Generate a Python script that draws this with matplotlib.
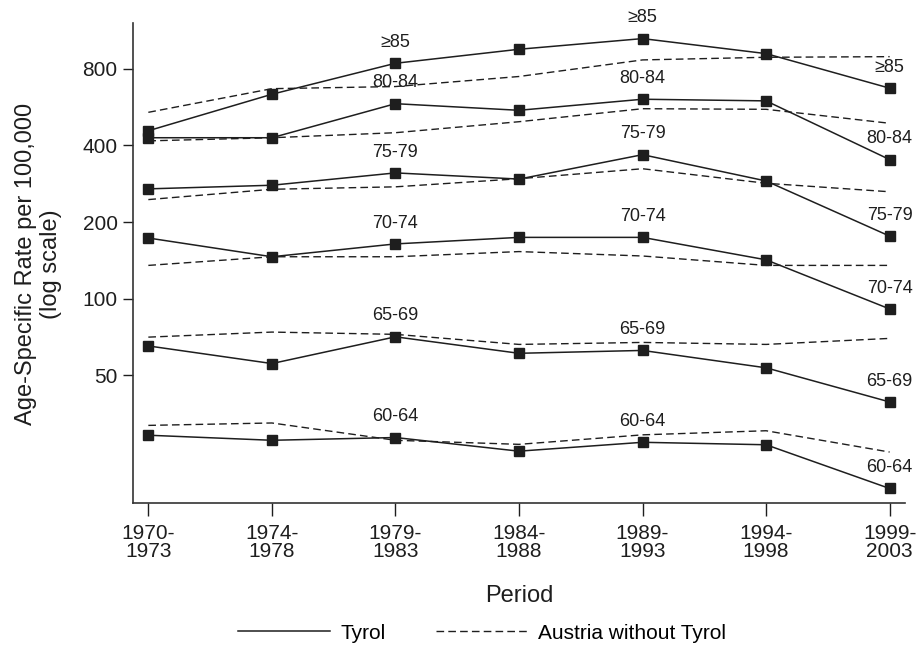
"""Age-specific rates, Tyrol vs Austria without Tyrol (log scale)
"""

#%% Imports
import matplotlib
matplotlib.use('Agg')
import matplotlib.pyplot as plt
from matplotlib.lines import Line2D
from matplotlib.ticker import FixedLocator, NullLocator, FixedFormatter

plt.rcParams['font.family'] = ['Liberation Sans', 'DejaVu Sans']

#%% Data
periods = ['1970-\n1973', '1974-\n1978', '1979-\n1983', '1984-\n1988',
           '1989-\n1993', '1994-\n1998', '1999-\n2003']
age_groups = ['\u226585', '80-84', '75-79', '70-74', '65-69', '60-64']

# Tyrol (solid, squares)
tyrol_85 = [457, 636, 842, 956, 1053, 919, 672]
tyrol_80 = [429, 429, 584, 550, 608, 599, 352]
tyrol_75 = [270, 279, 312, 295, 368, 290, 176]
tyrol_70 = [173, 146, 164, 174, 174, 142, 91]
tyrol_65 = [65.1, 55.5, 70.7, 60.9, 62.5, 53.4, 39.2]
tyrol_60 = [29.0, 27.7, 28.4, 25.1, 27.2, 26.6, 17.9]

# Austria without Tyrol (dashed)
austria_85 = [540, 669, 682, 747, 868, 889, 894]
austria_80 = [417, 429, 449, 496, 558, 555, 489]
austria_75 = [245, 269, 275, 296, 324, 284, 263]
austria_70 = [135, 146, 146, 153, 147, 135, 135]
austria_65 = [70.5, 73.8, 72.3, 66.0, 67.2, 66.0, 69.7]
austria_60 = [31.7, 32.4, 27.7, 26.7, 29.1, 30.2, 24.9]

tyrol = [tyrol_85, tyrol_80, tyrol_75, tyrol_70, tyrol_65, tyrol_60]
austria = [austria_85, austria_80, austria_75, austria_70, austria_65, austria_60]

yticks = [50, 100, 200, 400, 800]
label_periods = [2, 4, 6]  # where the age group labels sit

#%% Plot
col = '#1e1e1e'
fig = plt.figure(figsize=(9.18, 6.47), dpi=100)
ax = fig.add_axes([0.1449, 0.2226, 0.8409, 0.7419])

x = list(range(len(periods)))
for i, (t, a) in enumerate(zip(tyrol, austria)):
    ax.plot(x, a, color=col, lw=1.0, dashes=(5.5, 3))
    ax.plot(x, t, color=col, lw=1.1, marker='s', markersize=7)
    for p in label_periods:
        ax.annotate(age_groups[i], (x[p], t[p]), xytext=(0, 15),
                    textcoords='offset points', ha='center', va='center',
                    fontsize=13, color=col)

ax.set_yscale('log')
ax.set_ylim(15.7, 1213)
ax.set_xlim(-0.124, 6.124)
ax.yaxis.set_major_locator(FixedLocator(yticks))
ax.yaxis.set_major_formatter(FixedFormatter([str(v) for v in yticks]))
ax.yaxis.set_minor_locator(NullLocator())
ax.set_xticks(x)
ax.set_xticklabels(periods, linespacing=0.95)

ax.tick_params(axis='both', labelsize=15, colors=col, width=1.0)
ax.tick_params(axis='x', length=9, pad=6)
ax.tick_params(axis='y', length=7, pad=4)
for s in ['top', 'right']:
    ax.spines[s].set_visible(False)
for s in ['left', 'bottom']:
    ax.spines[s].set_color('#333333')
    ax.spines[s].set_linewidth(1.2)

ax.set_xlabel('Period', fontsize=17, color=col)
ax.xaxis.set_label_coords(0.5, -0.17)
ax.set_ylabel('Age-Specific Rate per 100,000\n(log scale)', fontsize=17,
              color=col, linespacing=1.2)
ax.yaxis.set_label_coords(-0.092, 0.498)

# legend handles without markers, like the reference
handles = [Line2D([], [], color=col, lw=1.1),
           Line2D([], [], color=col, lw=1.0, dashes=(5.5, 3))]
fig.legend(handles, ['Tyrol', 'Austria without Tyrol'],
           loc='center', bbox_to_anchor=(0.525, 0.0216), ncol=2, frameon=False,
           fontsize=15, handlelength=4.4, handletextpad=0.5, columnspacing=2.4)

fig.savefig('out.png', dpi=100)
